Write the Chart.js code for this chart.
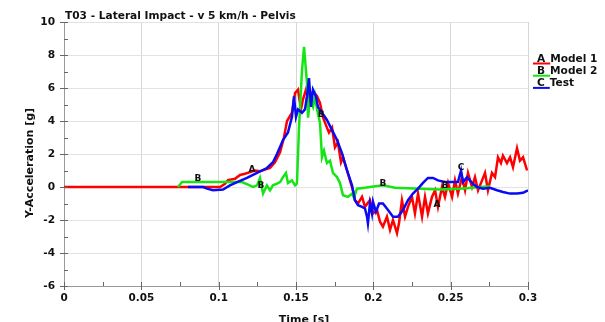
<!DOCTYPE html>
<html>
<head>
<meta charset="utf-8">
<script src="https://cdn.jsdelivr.net/npm/chart.js@4/dist/chart.umd.min.js"></script>
<style>
  html, body { margin: 0; padding: 0; background: #fff; }
  #wrap { width: 605px; height: 322px; }
</style>
</head>
<body>
<div id="wrap"><canvas id="chart" width="605" height="322"></canvas></div>
<script>
// Pelvis lateral acceleration, model runs against the physical test
const model1Time = [0, 0.0718, 0.1009, 0.1041, 0.1060, 0.1106, 0.1138, 0.1170, 0.1203, 0.1235, 0.1267, 0.1299, 0.1332, 0.1364,
  0.1397, 0.1422, 0.1442, 0.1474, 0.1494, 0.1513, 0.1532, 0.1545, 0.1571, 0.1584, 0.1610, 0.1636, 0.1655, 0.1675, 0.1700,
  0.1713, 0.1733, 0.1752, 0.1771, 0.1791, 0.1804, 0.1830, 0.1849, 0.1868, 0.1881, 0.1901, 0.1927, 0.1946, 0.1978, 0.1998,
  0.2024, 0.2043, 0.2062, 0.2088, 0.2108, 0.2127, 0.2153, 0.2166, 0.2185, 0.2205, 0.2224, 0.2250, 0.2269, 0.2289, 0.2315,
  0.2334, 0.2353, 0.2379, 0.2399, 0.2418, 0.2444, 0.2463, 0.2483, 0.2509, 0.2528, 0.2547, 0.2573, 0.2593, 0.2612, 0.2638,
  0.2657, 0.2677, 0.2703, 0.2722, 0.2741, 0.2767, 0.2787, 0.2806, 0.2825, 0.2838, 0.2864, 0.2884, 0.2903, 0.2929, 0.2948,
  0.2968, 0.2994];
const model1Acc = [0, 0, 0, 0.2, 0.42, 0.5, 0.73, 0.8, 0.9, 1.0, 0.95, 1.05, 1.15, 1.5,
  2.1, 3.0, 4.0, 4.5, 5.7, 5.9, 4.7, 5.3, 6.1, 5.1, 5.8, 5.5, 5.1, 4.2, 3.6,
  3.3, 3.6, 2.4, 2.7, 1.5, 1.8, 1.0, 0.4, -0.2, -0.8, -1.0, -0.6, -1.2, -0.8, -1.6,
  -1.4, -2.1, -2.4, -1.8, -2.6, -2.0, -2.8, -2.2, -0.8, -1.8, -1.2, -0.6, -1.6, -0.4, -1.8,
  -0.6, -1.6, -0.6, -0.2, -1.2, 0, -0.6, 0.25, -0.6, 0.4, -0.4, 0.6, -0.2, 0.85, 0,
  0.6, -0.2, 0.4, 0.85, -0.2, 0.85, 0.6, 1.8, 1.45, 1.9, 1.45, 1.8, 1.2, 2.35, 1.6,
  1.8, 1.0];

const model2Time = [0.0737, 0.0763, 0.1151, 0.1190, 0.1222, 0.1248, 0.1267, 0.1287, 0.1312, 0.1332, 0.1351, 0.1377, 0.1397,
  0.1416, 0.1435, 0.1448, 0.1474, 0.1494, 0.1506, 0.1519, 0.1539, 0.1552, 0.1571, 0.1578, 0.1590, 0.1610, 0.1623, 0.1636,
  0.1655, 0.1668, 0.1681, 0.1700, 0.1720, 0.1739, 0.1765, 0.1784, 0.1804, 0.1836, 0.1862, 0.1875, 0.1894, 0.1946, 0.1978,
  0.2062, 0.2140, 0.2431, 0.2560, 0.2754];
const model2Acc = [0, 0.3, 0.3, 0.15, 0, 0.1, 0.55, -0.4, 0.1, -0.2, 0.1, 0.2, 0.3,
  0.6, 0.85, 0.25, 0.4, 0.1, 0.2, 3.5, 7.1, 8.5, 6.3, 4.2, 5.3, 4.85, 5.5, 4.7,
  3.9, 1.8, 2.2, 1.45, 1.6, 0.85, 0.6, 0.25, -0.5, -0.6, -0.4, -0.65, -0.1, -0.05, 0,
  0.1, -0.05, -0.15, -0.1, 0.05];

const testTime = [0.0802, 0.0899, 0.0925, 0.0963, 0.1028, 0.1073, 0.1119, 0.1183, 0.1248, 0.1312, 0.1351, 0.1377, 0.1416, 0.1448,
  0.1474, 0.1487, 0.1500, 0.1513, 0.1539, 0.1558, 0.1571, 0.1584, 0.1597, 0.1610, 0.1629, 0.1642, 0.1668, 0.1700, 0.1733,
  0.1765, 0.1797, 0.1830, 0.1862, 0.1881, 0.1901, 0.1927, 0.1946, 0.1959, 0.1965, 0.1978, 0.1991, 0.1998, 0.2017, 0.2037,
  0.2062, 0.2095, 0.2127, 0.2159, 0.2192, 0.2224, 0.2256, 0.2289, 0.2321, 0.2353, 0.2386, 0.2418, 0.2463, 0.2509, 0.2547,
  0.2567, 0.2580, 0.2606, 0.2638, 0.2670, 0.2709, 0.2754, 0.2800, 0.2838, 0.2884, 0.2929, 0.2968, 0.3000];
const testAcc = [0, 0, -0.1, -0.2, -0.15, 0.1, 0.3, 0.55, 0.85, 1.15, 1.5, 2.0, 2.85, 3.3,
  4.25, 5.5, 4.25, 4.7, 4.5, 4.7, 5.5, 6.6, 4.85, 5.9, 5.5, 4.85, 4.5, 4.06, 3.45,
  2.85, 2.05, 1.0, 0.1, -0.8, -1.1, -1.2, -1.3, -1.8, -2.2, -1.0, -1.6, -0.9, -1.5, -1.0,
  -1.0, -1.4, -1.8, -1.8, -1.4, -0.8, -0.4, -0.1, 0.25, 0.55, 0.55, 0.4, 0.3, 0.3, 0.3,
  1.0, 0.3, 0.6, 0.25, 0, -0.1, -0.05, -0.2, -0.3, -0.4, -0.4, -0.35, -0.2];

const seriesNames = ['Model 1', 'Model 2', 'Test'];
const seriesLetters = ['A', 'B', 'C'];
const seriesColors = ['#ff0000', '#14e614', '#0a0af5'];

// letter markers along the curves: [letter, time, acceleration]
const curveMarks = [
  ['A', 0.1215, 1.05], ['A', 0.2412, -1.05],
  ['B', 0.0866, 0.5], ['B', 0.1273, 0.1], ['B', 0.1662, 4.4], ['B', 0.2062, 0.2], ['B', 0.2463, 0.1],
  ['C', 0.2567, 1.2]
];

const chartTitle = 'T03 - Lateral Impact - v 5 km/h - Pelvis';
const xTitle = 'Time [s]';
const yTitle = 'Y-Acceleration [g]';

const FONT = '"DejaVu Sans", sans-serif';
const zip = (xs, ys) => xs.map((x, i) => ({ x: x, y: ys[i] }));

const decorations = {
  id: 'decorations',
  afterDatasetsDraw(chart) {
    const ctx = chart.ctx;
    const xs = chart.scales.x, ys = chart.scales.y;
    ctx.save();
    ctx.font = 'bold 9px ' + FONT;
    ctx.fillStyle = '#111';
    ctx.textAlign = 'center';
    ctx.textBaseline = 'middle';
    curveMarks.forEach(m => {
      ctx.fillText(m[0], xs.getPixelForValue(m[1]), ys.getPixelForValue(m[2]));
    });
    ctx.restore();
  },
  afterDraw(chart) {
    const ctx = chart.ctx;
    const area = chart.chartArea;
    const xs = chart.scales.x, ys = chart.scales.y;
    ctx.save();

    // minor and major ticks
    ctx.strokeStyle = '#666';
    ctx.lineWidth = 1;
    ctx.beginPath();
    for (let v = -6; v <= 10; v++) {
      const y = Math.round(ys.getPixelForValue(v)) + 0.5;
      const major = v % 2 === 0;
      ctx.moveTo(area.left - (major ? 4 : 0), y);
      ctx.lineTo(area.left + 4, y);
    }
    for (let i = 0; i <= 12; i++) {
      const x = Math.round(xs.getPixelForValue(i * 0.025)) + 0.5;
      const major = i % 2 === 0;
      ctx.moveTo(x, area.bottom + (major ? 4 : 0));
      ctx.lineTo(x, area.bottom - 4);
    }
    ctx.stroke();

    ctx.fillStyle = '#111';
    ctx.font = 'bold 10.6px ' + FONT;
    ctx.textAlign = 'left';
    ctx.textBaseline = 'middle';
    ctx.fillText(chartTitle, area.left + 1, 16);

    ctx.font = 'bold 11px ' + FONT;
    ctx.textAlign = 'center';
    ctx.fillText(xTitle, (area.left + area.right) / 2 + 8, 320);

    ctx.save();
    ctx.translate(30, 163);
    ctx.rotate(-Math.PI / 2);
    ctx.fillText(yTitle, 0, 0);
    ctx.restore();

    // legend
    ctx.font = 'bold 10.6px ' + FONT;
    ctx.textAlign = 'left';
    seriesNames.forEach((name, i) => {
      const y = 59 + i * 12.2;
      const x0 = 537;
      ctx.fillStyle = '#111';
      ctx.fillText(seriesLetters[i], x0, y);
      const lw = ctx.measureText(seriesLetters[i]).width;
      ctx.fillText(name, x0 + lw + 5, y);
      ctx.strokeStyle = seriesColors[i];
      ctx.lineWidth = 2;
      ctx.beginPath();
      ctx.moveTo(x0 - 4, y + 4.5);
      ctx.lineTo(x0 + lw + 5, y + 4.5);
      ctx.stroke();
    });
    ctx.restore();
  }
};

const makeSet = (i, time, acc, order) => ({
  label: seriesNames[i],
  data: zip(time, acc),
  borderColor: seriesColors[i],
  backgroundColor: seriesColors[i],
  borderWidth: 2.5,
  pointRadius: 0,
  tension: 0,
  fill: false,
  order: order
});

new Chart(document.getElementById('chart'), {
  type: 'line',
  data: {
    datasets: [
      makeSet(2, testTime, testAcc, 1),
      makeSet(1, model2Time, model2Acc, 2),
      makeSet(0, model1Time, model1Acc, 3)
    ]
  },
  options: {
    responsive: false,
    animation: false,
    layout: { padding: { left: 0, top: 22, right: 77, bottom: 0 } },
    plugins: {
      legend: { display: false },
      tooltip: { enabled: false },
      title: { display: false }
    },
    scales: {
      x: {
        type: 'linear',
        min: 0,
        max: 0.3,
        afterFit(scale) { scale.height = 36; },
        border: { color: '#999', width: 1 },
        grid: { color: '#d6d6d6', drawTicks: false },
        ticks: {
          stepSize: 0.05,
          padding: 6,
          color: '#111',
          font: { family: FONT, size: 10.4, weight: 'bold' },
          callback: v => String(+v.toFixed(2))
        }
      },
      y: {
        min: -6,
        max: 10,
        afterFit(scale) { scale.width = 64; },
        border: { color: '#999', width: 1 },
        grid: { color: '#e2e2e2', drawTicks: false },
        ticks: {
          stepSize: 2,
          padding: 9,
          color: '#111',
          font: { family: FONT, size: 10.6, weight: 'bold' }
        }
      }
    }
  },
  plugins: [decorations]
});
</script>
</body>
</html>
